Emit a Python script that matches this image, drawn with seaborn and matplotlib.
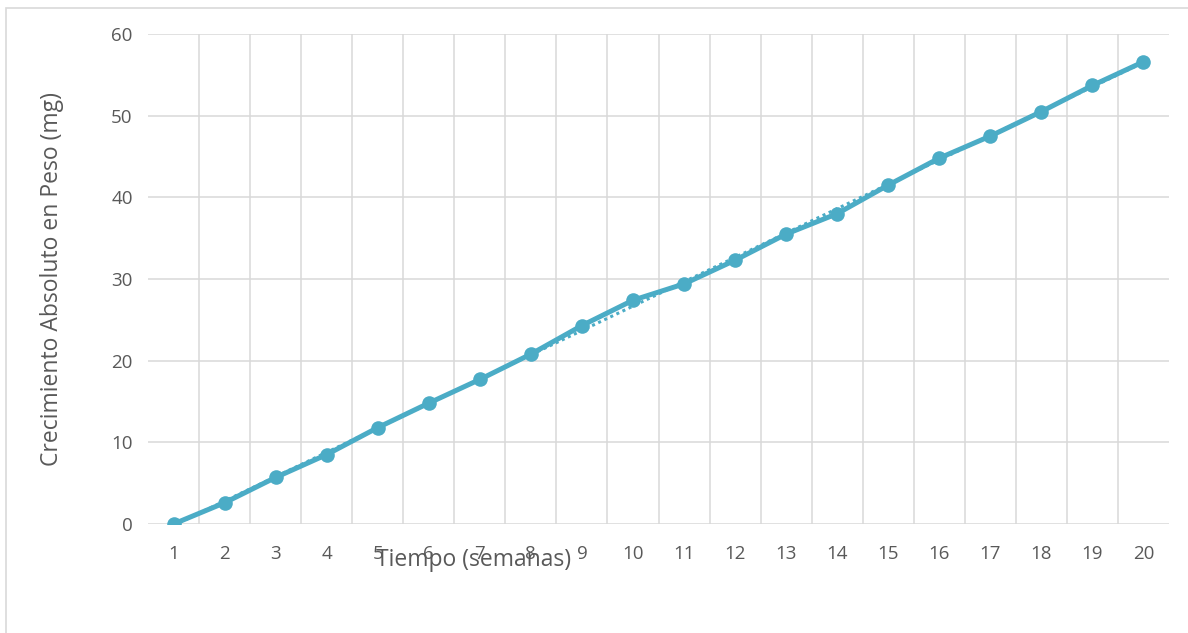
import numpy as np
import pandas as pd
import matplotlib
matplotlib.use("Agg")
import matplotlib.pyplot as plt
import seaborn as sns
from matplotlib.patches import Rectangle

semanas = list(range(1, 21))
crecimiento = [0.0, 2.6, 5.7, 8.5, 11.8, 14.8, 17.7, 20.8, 24.3, 27.4,
               29.4, 32.3, 35.5, 38.0, 41.5, 44.8, 47.5, 50.5, 53.7, 56.6]
y_ticks = [0, 10, 20, 30, 40, 50, 60]

color_serie = "#4BACC6"
color_texto = "#595959"
color_grid = "#D9D9D9"

sns.set_theme(style="white")
plt.rcParams["font.family"] = ["Open Sans", "DejaVu Sans"]

df = pd.DataFrame({"semana": semanas, "crecimiento": crecimiento})

# linear trend line fitted to the series
pend, inter = np.polyfit(df["semana"], df["crecimiento"], 1)
df["tendencia"] = pend * df["semana"] + inter

fig = plt.figure(figsize=(11.88, 6.33), dpi=100)
ax = fig.add_axes([148 / 1188, 1 - 524 / 633, (1169 - 148) / 1188, (524 - 34) / 633])

# chart-area border
fig.patches.append(Rectangle((6 / 1188, -0.1), 1.2, 1 - 8 / 633 + 0.1,
                             transform=fig.transFigure, fill=False,
                             edgecolor="#D9D9D9", linewidth=1.2, zorder=0))

sns.lineplot(data=df, x="semana", y="tendencia", ax=ax, color=color_serie,
             linestyle=(0, (1, 1.2)), linewidth=2.2, zorder=2)
sns.lineplot(data=df, x="semana", y="crecimiento", ax=ax, color=color_serie,
             linewidth=3.6, marker="o", markersize=10.5, markeredgewidth=0,
             zorder=3)

ax.set_xlim(0.5, 20.5)
ax.set_ylim(0, 60)
ax.set_xticks(semanas)
ax.set_xticklabels([str(s) for s in semanas])
ax.set_yticks(y_ticks)
ax.set_yticklabels([str(v) for v in y_ticks])

# horizontal gridlines across the plot, vertical ones between categories
for v in y_ticks:
    ax.axhline(v, color=color_grid, linewidth=1.1, zorder=1)
for b in np.arange(1.5, 20.5, 1.0):
    ax.axvline(b, color=color_grid, linewidth=1.1, zorder=1)

for s in ax.spines.values():
    s.set_visible(False)

ax.tick_params(axis="both", length=0, labelsize=13.5, colors=color_texto)
ax.tick_params(axis="y", pad=11)
ax.tick_params(axis="x", pad=15)

ax.set_xlabel("Tiempo (semanas)", fontsize=16.5, color=color_texto, va="center")
ax.xaxis.set_label_coords(0.319, -0.073)
ax.set_ylabel("Crecimiento Absoluto en Peso (mg)", fontsize=16.5,
              color=color_texto, va="center")
ax.yaxis.set_label_coords(-0.094, 0.5)

fig.savefig("out.png", dpi=100, facecolor="white")
